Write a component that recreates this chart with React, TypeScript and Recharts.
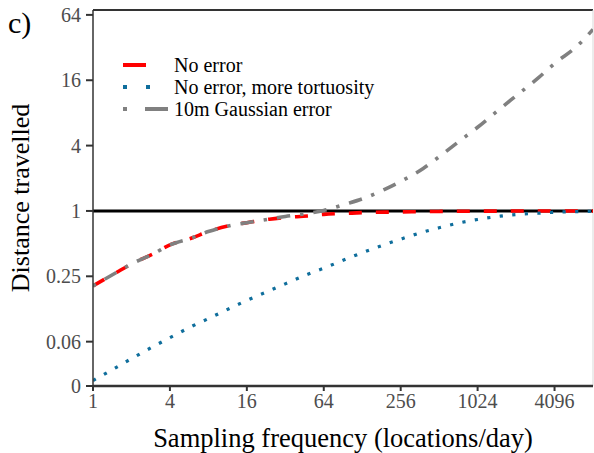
import React from "react";
import {
  Label,
  Legend,
  Line,
  LineChart,
  ReferenceLine,
  XAxis,
  YAxis,
} from "recharts";

const FONT = "'Liberation Serif', 'DejaVu Serif', serif";

// sampling frequency (locations/day)
const frequency = [
  1, 1.5, 2, 3, 4, 6, 8, 12, 16, 24, 32, 48, 64, 96, 128, 192, 256, 384, 512,
  768, 1024, 1536, 2048, 3072, 4096, 6144, 8192,
];

// relative distance travelled
const noError = [
  0.204, 0.268, 0.325, 0.406, 0.487, 0.566, 0.646, 0.737, 0.78, 0.84, 0.87,
  0.9, 0.93, 0.95, 0.965, 0.975, 0.98, 0.985, 0.99, 0.993, 0.995, 0.997, 0.998,
  0.999, 1, 1, 1,
];
const moreTortuosity = [
  0.0274, 0.0359, 0.0436, 0.0568, 0.068, 0.087, 0.102, 0.128, 0.15, 0.184,
  0.213, 0.261, 0.297, 0.361, 0.412, 0.49, 0.55, 0.64, 0.7, 0.785, 0.835, 0.895,
  0.927, 0.953, 0.973, 0.986, 0.993,
];
const gaussianError = [
  0.204, 0.268, 0.325, 0.406, 0.487, 0.566, 0.646, 0.737, 0.78, 0.84, 0.89,
  0.95, 1.01, 1.16, 1.29, 1.58, 1.87, 2.46, 3.16, 4.56, 5.9, 8.75, 11.5, 16.9,
  22.8, 33, 47,
];

const xTicks = [1, 4, 16, 64, 256, 1024, 4096];
const yTicks = [0.0244, 0.0625, 0.25, 1, 4, 16, 64];
const yTickLabels = ["0", "0.06", "0.25", "1", "4", "16", "64"];
const yDomain = [0.0244, 71];
const xDomain = [1, 8192];
const legendOrder = ["noError", "tortuosity", "gaussian"];

const rows = frequency.map((f, i) => ({
  f,
  noError: noError[i],
  tortuosity: moreTortuosity[i],
  gaussian: gaussianError[i],
}));

const RED = "#ff0000";
const BLUE = "#0f6e9c";
const GREY = "#808080";
const AXIS = "#333333";
const TICK_TEXT = "#4d4d4d";

function LegendKey({ dataKey }: { dataKey: string }) {
  if (dataKey === "noError") {
    return (
      <svg width={50} height={10}>
        <line x1={4} x2={27} y1={5} y2={5} stroke={RED} strokeWidth={4} />
      </svg>
    );
  }
  if (dataKey === "tortuosity") {
    return (
      <svg width={50} height={10}>
        <rect x={4} y={3} width={4} height={4} fill={BLUE} />
        <rect x={27} y={3} width={4} height={4} fill={BLUE} />
      </svg>
    );
  }
  return (
    <svg width={50} height={10}>
      <rect x={4} y={3} width={4} height={4} fill={GREY} />
      <line x1={26} x2={49} y1={5} y2={5} stroke={GREY} strokeWidth={4} />
    </svg>
  );
}

function LegendBox(props: any) {
  const payload = [...(props.payload || [])].sort(
    (a: any, b: any) => legendOrder.indexOf(a.dataKey) - legendOrder.indexOf(b.dataKey),
  );
  return (
    <div style={{ fontFamily: FONT, fontSize: 20, color: "#000" }}>
      {payload.map((p: any) => (
        <div
          key={p.dataKey}
          style={{ display: "flex", alignItems: "center", height: 22 }}
        >
          <LegendKey dataKey={p.dataKey} />
          <span style={{ marginLeft: 5 }}>{p.value}</span>
        </div>
      ))}
    </div>
  );
}

export default function App() {
  return (
    <div style={{ position: "absolute", left: 0, top: 0, width: 594, height: 453, background: "#fff" }}>
      <div
        style={{
          position: "absolute",
          left: 8,
          top: 6,
          fontFamily: FONT,
          fontSize: 30,
          color: "#000",
          lineHeight: "34px",
        }}
      >
        c)
      </div>
      <LineChart
        width={594}
        height={453}
        data={rows}
        margin={{ top: 10, right: 1, left: 0, bottom: 0 }}
      >
        <XAxis
          dataKey="f"
          type="number"
          scale="log"
          domain={xDomain}
          ticks={xTicks}
          allowDataOverflow
          height={67}
          tickSize={5}
          tickMargin={3}
          axisLine={{ stroke: AXIS, strokeWidth: 2.3 }}
          tickLine={{ stroke: AXIS, strokeWidth: 2 }}
          tick={{ fill: TICK_TEXT, fontSize: 20, fontFamily: FONT }}
        >
          <Label
            content={(p: any) => {
              const { x, y, width } = p.viewBox;
              return (
                <text
                  x={x + width / 2}
                  y={y + 52}
                  textAnchor="middle"
                  dominantBaseline="central"
                  fontFamily={FONT}
                  fontSize={26.5}
                  fill="#000"
                >
                  Sampling frequency (locations/day)
                </text>
              );
            }}
          />
        </XAxis>
        <YAxis
          type="number"
          scale="log"
          domain={yDomain}
          ticks={yTicks}
          allowDataOverflow
          width={93}
          tickSize={7}
          tickMargin={5}
          tickFormatter={(v: number) => yTickLabels[yTicks.indexOf(v)] ?? ""}
          axisLine={{ stroke: AXIS, strokeWidth: 1.5 }}
          tickLine={{ stroke: AXIS, strokeWidth: 2 }}
          tick={{ fill: TICK_TEXT, fontSize: 20, fontFamily: FONT }}
        >
          <Label
            content={(p: any) => {
              const { x, y, height } = p.viewBox;
              const cx = x + 20;
              const cy = y + height / 2;
              return (
                <text
                  x={cx}
                  y={cy}
                  transform={`rotate(-90 ${cx} ${cy})`}
                  textAnchor="middle"
                  dominantBaseline="central"
                  fontFamily={FONT}
                  fontSize={26}
                  fill="#000"
                >
                  Distance travelled
                </text>
              );
            }}
          />
        </YAxis>
        <ReferenceLine y={yDomain[1]} stroke={AXIS} strokeWidth={2} />
        <ReferenceLine x={xDomain[1]} stroke="#d9d9d9" strokeWidth={1} />
        <ReferenceLine y={1} stroke="#000" strokeWidth={3} />
        <Legend
          layout="vertical"
          align="center"
          verticalAlign="middle"
          content={<LegendBox />}
          wrapperStyle={{ left: 119, top: 54, width: 300, height: 70 }}
        />
        <Line
          dataKey="noError"
          name="No error"
          type="monotone"
          stroke={RED}
          strokeWidth={3.6}
          strokeDasharray="13 14"
          dot={false}
          activeDot={false}
          isAnimationActive={false}
        />
        <Line
          dataKey="tortuosity"
          name="No error, more tortuosity"
          type="monotone"
          stroke={BLUE}
          strokeWidth={3.2}
          strokeDasharray="3.2 9.4"
          dot={false}
          activeDot={false}
          isAnimationActive={false}
        />
        <Line
          dataKey="gaussian"
          name="10m Gaussian error"
          type="monotone"
          stroke={GREY}
          strokeWidth={3.6}
          strokeDasharray="3.4 10 13.5 10"
          dot={false}
          activeDot={false}
          isAnimationActive={false}
        />
      </LineChart>
    </div>
  );
}
